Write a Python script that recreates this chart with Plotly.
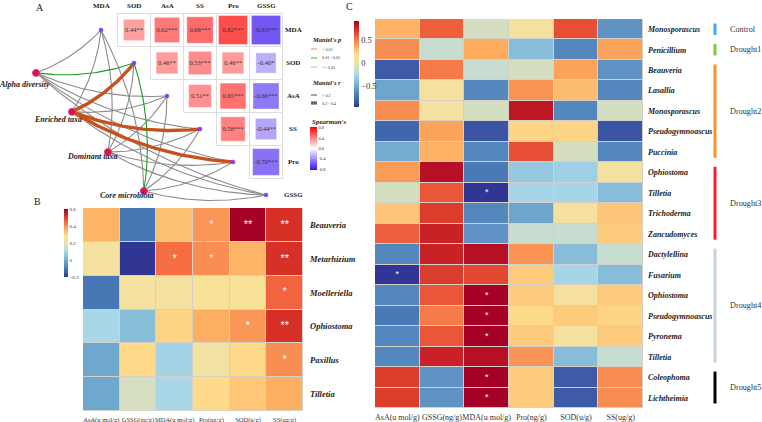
import numpy as np
import plotly.graph_objects as go

W, H = 762, 422

# ======================= DATA =======================
# ---- Panel A: Spearman correlations among physiological indices ----
env_vars = ["MDA", "SOD", "AsA", "SS", "Pro", "GSSG"]
corr_row = ["MDA", "MDA", "MDA", "MDA", "MDA", "SOD", "SOD", "SOD", "SOD",
            "AsA", "AsA", "AsA", "SS", "SS", "Pro"]
corr_col = ["SOD", "AsA", "SS", "Pro", "GSSG", "AsA", "SS", "Pro", "GSSG",
            "SS", "Pro", "GSSG", "Pro", "GSSG", "GSSG"]
corr_r = [0.44, 0.62, 0.68, 0.82, -0.83, 0.46, 0.53, 0.46, -0.40,
          0.51, 0.65, -0.66, 0.58, -0.44, -0.70]
corr_sig = ["**", "***", "***", "***", "***", "**", "***", "**", "*",
            "**", "***", "***", "***", "**", "***"]

# ---- Panel A: Mantel tests (fungal community sets vs indices) ----
spec_names = ["Alpha diversity", "Enriched taxa", "Dominant taxa", "Core microbiota"]
mantel_p = [
    [">=0.05", "0.01-0.05", ">=0.05", ">=0.05", ">=0.05", ">=0.05"],
    [">=0.05", "<0.01", ">=0.05", "<0.01", "<0.01", ">=0.05"],
    [">=0.05", ">=0.05", ">=0.05", ">=0.05", ">=0.05", ">=0.05"],
    [">=0.05", "0.01-0.05", ">=0.05", ">=0.05", ">=0.05", ">=0.05"],
]
mantel_r = [
    ["<0.2", "<0.2", "<0.2", "<0.2", "<0.2", "<0.2"],
    ["<0.2", "0.2-0.4", "<0.2", "0.2-0.4", "0.2-0.4", "<0.2"],
    ["<0.2", "<0.2", "<0.2", "<0.2", "<0.2", "<0.2"],
    ["<0.2", "<0.2", "<0.2", "<0.2", "<0.2", "<0.2"],
]

# ---- Panel B ----
b_cols = ["AsA(u mol/g)", "GSSG(ng/g)", "MDA(u mol/g)", "Pro(ng/g)", "SOD(u/g)", "SS(ug/g)"]
b_genus = ["Beauveria", "Metarhizium", "Moelleriella", "Ophiostoma", "Paxillus", "Tilletia"]
b_values = [
    [0.35, -0.10, 0.33, 0.39, 0.60, 0.52],
    [0.24, -0.20, 0.44, 0.40, 0.35, 0.52],
    [-0.10, 0.24, 0.24, 0.26, 0.26, 0.45],
    [0.10, 0.04, 0.30, 0.36, 0.39, 0.52],
    [-0.01, 0.29, 0.09, 0.23, 0.29, 0.40],
    [-0.01, 0.17, 0.10, 0.29, 0.32, 0.36],
]
b_stars = [
    ["", "", "", "*", "**", "**"],
    ["", "", "*", "*", "", "**"],
    ["", "", "", "", "", "*"],
    ["", "", "", "", "*", "**"],
    ["", "", "", "", "", "*"],
    ["", "", "", "", "", ""],
]

# ---- Panel C ----
c_cols = ["AsA(u mol/g)", "GSSG(ng/g)", "MDA(u mol/g)", "Pro(ng/g)", "SOD(u/g)", "SS(ug/g)"]
c_genus = ["Monosporascus", "Penicillium", "Beauveria", "Lasallia", "Monosporascus",
           "Pseudogymnoascus", "Puccinia", "Ophiostoma", "Tilletia", "Trichoderma",
           "Zancudomyces", "Dactylellina", "Fusarium", "Ophiostoma", "Pseudogymnoascus",
           "Pyronema", "Tilletia", "Coleophoma", "Lichtheimia"]
c_values = [
    [0.33, 0.57, -0.10, 0.07, 0.62, -0.60],
    [0.44, -0.15, 0.35, -0.40, -0.65, 0.38],
    [-0.82, 0.49, -0.15, -0.10, 0.38, -0.60],
    [-0.52, 0.07, -0.65, 0.42, 0.29, -0.65],
    [0.44, 0.07, -0.10, 0.81, -0.65, -0.10],
    [-0.78, 0.38, -0.84, 0.20, 0.20, -0.84],
    [-0.49, 0.33, -0.65, 0.62, -0.10, -0.65],
    [0.40, 0.84, -0.71, -0.34, -0.30, 0.07],
    [-0.10, 0.60, -0.95, -0.27, -0.27, -0.40],
    [0.26, 0.68, -0.65, -0.52, 0.07, 0.26],
    [0.57, 0.77, -0.60, -0.15, -0.15, 0.24],
    [-0.65, 0.77, 0.84, 0.42, -0.40, -0.15],
    [-0.95, 0.68, 0.64, 0.24, -0.27, -0.40],
    [-0.65, 0.60, 0.90, 0.24, 0.07, 0.24],
    [-0.71, 0.49, 0.90, 0.18, 0.24, 0.20],
    [-0.65, 0.60, 0.90, 0.24, 0.07, 0.24],
    [-0.65, 0.77, 0.84, 0.42, -0.40, -0.15],
    [0.68, -0.60, 0.90, 0.24, -0.82, 0.44],
    [0.68, -0.60, 0.90, 0.24, -0.82, 0.44],
]
c_star_row = [8, 12, 13, 14, 15, 17, 18]
c_star_col = [2, 0, 2, 2, 2, 2, 2]
c_star_txt = ["*", "*", "*", "*", "*", "*", "*"]
c_groups = ["Control", "Drought1", "Drought2", "Drought3", "Drought4", "Drought5"]
c_group_first = [0, 1, 2, 7, 11, 17]
c_group_last = [0, 1, 6, 10, 16, 18]

# ======================= STYLE / LAYOUT =======================
SERIF = "Liberation Serif"
TXT = "#222222"
HM_SCALE = [[0, "#313695"], [0.12, "#4575b4"], [0.25, "#74add1"], [0.38, "#abd9e9"],
            [0.5, "#e9e2ae"], [0.6, "#fee090"], [0.7, "#fdae61"], [0.8, "#f46d43"],
            [0.9, "#d73027"], [1, "#a50026"]]
SP_SCALE = [[0, "#3a10f0"], [0.5, "#ffffff"], [1, "#ff0000"]]
P_COL = {"<0.01": "#c8501e", "0.01-0.05": "#1f9a1f", ">=0.05": "#8c8c8c"}
R_WID = {"<0.2": 1.1, "0.2-0.4": 3.4}
GROUP_COL = ["#3fa9f5", "#7ac943", "#f7931e", "#ff1d25", "#c7d3dc", "#000000"]


def px(x):
    return x / W


def py(y):
    return 1 - y / H


fig = go.Figure()

# ---------------- Panel C heatmap ----------------
nC = len(c_genus)
fig.add_trace(go.Heatmap(
    z=c_values, x=list(range(len(c_cols))), y=list(range(nC)),
    colorscale=HM_SCALE, zmin=-0.95, zmax=0.9, xgap=1, ygap=1,
    xaxis="x", yaxis="y", showscale=True,
    colorbar=dict(x=px(354), xanchor="left", xpad=0, y=py(64), yanchor="middle",
                  len=86, lenmode="pixels", thickness=5, thicknessmode="pixels",
                  outlinewidth=0, ypad=0, ticks="",
                  tickvals=[-0.5, 0, 0.5], ticktext=["\u22120.5", "0", "0.5"],
                  tickfont=dict(family=SERIF, size=8.5, color="#333"))))
fig.add_trace(go.Scatter(
    x=c_star_col, y=c_star_row, text=c_star_txt, mode="text",
    textfont=dict(color="white", size=9, family="Arial"), xaxis="x", yaxis="y",
    hoverinfo="skip"))

# ---------------- Panel B heatmap ----------------
nB = len(b_genus)
fig.add_trace(go.Heatmap(
    z=b_values, x=list(range(len(b_cols))), y=list(range(nB)),
    colorscale=HM_SCALE, zmin=-0.2, zmax=0.6, xgap=1, ygap=1,
    xaxis="x2", yaxis="y2", showscale=True,
    colorbar=dict(x=px(64), xanchor="left", xpad=0, y=py(243), yanchor="middle",
                  len=68, lenmode="pixels", thickness=4, thicknessmode="pixels",
                  outlinewidth=0, ypad=0, ticks="",
                  tickvals=[-0.2, 0, 0.2, 0.4, 0.6],
                  ticktext=["\u22120.2", "0", "0.2", "0.4", "0.6"],
                  tickfont=dict(family=SERIF, size=5, color="#333"))))
bx, by, bt = [], [], []
for i, row in enumerate(b_stars):
    for j, s in enumerate(row):
        if s:
            bx.append(j)
            by.append(i)
            bt.append(s)
fig.add_trace(go.Scatter(
    x=bx, y=by, text=bt, mode="text",
    textfont=dict(color="white", size=11, family="Arial"), xaxis="x2", yaxis="y2",
    hoverinfo="skip"))

# ---------------- Panel A ----------------
idx = {v: k for k, v in enumerate(env_vars)}
spec_x = [-1.97, -0.88, 0.21, 1.30]   # node positions in cell units
spec_y = [1.30, 2.48, 3.70, 4.88]
CURV = 0.12

order = []
for si in range(len(spec_names)):
    for ei in range(len(env_vars)):
        order.append((0 if mantel_p[si][ei] == ">=0.05" else 1, si, ei))
order.sort()
t = np.linspace(0, 1, 40)
for _, si, ei in order:
    p0 = np.array([spec_x[si], spec_y[si]])
    p2 = np.array([ei, ei], dtype=float)
    d = p2 - p0
    ctrl = (p0 + p2) / 2 + CURV * np.array([-d[1], d[0]])
    pts = ((1 - t) ** 2)[:, None] * p0 + (2 * (1 - t) * t)[:, None] * ctrl + (t ** 2)[:, None] * p2
    fig.add_trace(go.Scatter(
        x=pts[:, 0], y=pts[:, 1], mode="lines", xaxis="x3", yaxis="y3",
        line=dict(color=P_COL[mantel_p[si][ei]], width=R_WID[mantel_r[si][ei]]),
        hoverinfo="skip"))

gx, gy = [], []
for rname, cname in zip(corr_row, corr_col):
    i, j = idx[rname], idx[cname]
    gx += [j - 0.5, j + 0.5, j + 0.5, j - 0.5, j - 0.5, None]
    gy += [i - 0.5, i - 0.5, i + 0.5, i + 0.5, i - 0.5, None]
fig.add_trace(go.Scatter(x=gx, y=gy, mode="lines", xaxis="x3", yaxis="y3",
                         line=dict(color="#dddddd", width=1), hoverinfo="skip"))

cx = [idx[c] for c in corr_col]
cy = [idx[r] for r in corr_row]
fig.add_trace(go.Scatter(
    x=cx, y=cy, mode="markers+text", xaxis="x3", yaxis="y3",
    text=[f"{r:.2f}{s}" for r, s in zip(corr_r, corr_sig)],
    textposition="middle center",
    textfont=dict(family=SERIF, size=6.5, color="#333"),
    marker=dict(symbol="square", size=[32 * np.sqrt(abs(r)) for r in corr_r],
                color=corr_r, colorscale=SP_SCALE, cmin=-0.83, cmax=0.83,
                line=dict(width=0.6, color="rgba(255,255,255,0.6)"),
                showscale=True,
                colorbar=dict(x=px(310), xanchor="left", xpad=0, y=py(148.5), yanchor="middle",
                              len=43, lenmode="pixels", thickness=7, thicknessmode="pixels",
                              outlinewidth=0, ypad=0, ticks="",
                              tickvals=[-0.8, -0.4, 0, 0.4, 0.8],
                              ticktext=["-0.8", "-0.4", "0.0", "0.4", "0.8"],
                              tickfont=dict(family=SERIF, size=4.5, color="#333"))),
    hoverinfo="skip"))

fig.add_trace(go.Scatter(
    x=list(range(len(env_vars))), y=list(range(len(env_vars))), mode="markers",
    xaxis="x3", yaxis="y3", marker=dict(size=4, color="#9b30ff",
                                        line=dict(width=0.5, color="#5050ff")),
    hoverinfo="skip"))
fig.add_trace(go.Scatter(
    x=spec_x, y=spec_y, mode="markers", xaxis="x3", yaxis="y3",
    marker=dict(size=7, color="#e8102a", line=dict(width=1, color="#c040c0")),
    hoverinfo="skip"))

annotations = []
lab_dx = [0.48, 0.35, 0.36, 0.36]
lab_dy = [0.36, 0.24, 0.12, 0.12]
for si, name in enumerate(spec_names):
    annotations.append(dict(
        x=spec_x[si] + lab_dx[si], y=spec_y[si] + lab_dy[si], xref="x3", yref="y3",
        text=f"<b><i>{name}</i></b>", showarrow=False, xanchor="right", yanchor="middle",
        font=dict(family=SERIF, size=8, color=TXT)))
for k, v in enumerate(env_vars):
    annotations.append(dict(x=k, y=-0.73, xref="x3", yref="y3", text=f"<b>{v}</b>",
                            showarrow=False, xanchor="center", yanchor="middle",
                            font=dict(family=SERIF, size=7, color=TXT)))
    annotations.append(dict(x=5.82, y=k, xref="x3", yref="y3", text=f"<b>{v}</b>",
                            showarrow=False, xanchor="center", yanchor="middle",
                            font=dict(family=SERIF, size=7, color=TXT)))

for lt, lx, ly in [("A", 40, 8), ("B", 37, 202), ("C", 349, 6)]:
    annotations.append(dict(x=px(lx), y=py(ly), xref="paper", yref="paper", text=lt,
                            showarrow=False, xanchor="center", yanchor="middle",
                            font=dict(family=SERIF, size=10, color=TXT)))

shapes = []
LX0, LX1, LT = 311, 317, 320


def leg_title(txt, y, size):
    annotations.append(dict(x=px(310), y=py(y), xref="paper", yref="paper",
                            text=f"<b><i>{txt}</i></b>", showarrow=False, xanchor="left",
                            yanchor="middle",
                            font=dict(family=SERIF, size=size, color=TXT)))


def leg_item(txt, y, color, width):
    shapes.append(dict(type="line", xref="paper", yref="paper", x0=px(LX0), x1=px(LX1),
                       y0=py(y), y1=py(y), line=dict(color=color, width=width)))
    annotations.append(dict(x=px(LT), y=py(y), xref="paper", yref="paper", text=txt,
                            showarrow=False, xanchor="left", yanchor="middle",
                            font=dict(family=SERIF, size=4.2, color="#333")))


leg_title("Mantel's p", 39, 6.5)
leg_item("&lt; 0.01", 49, "#f08a6a", 1)
leg_item("0.01 - 0.05", 58, "#4cb04c", 1)
leg_item("&gt;= 0.05", 67, "#bbbbbb", 1)
leg_title("Mantel's r", 83, 6.5)
leg_item("&lt; 0.2", 95, "#888888", 1.5)
leg_item("0.2 - 0.4", 103, "#666666", 3.2)
leg_title("Spearman's", 122, 7)

for g, f0, f1, col in zip(c_groups, c_group_first, c_group_last, GROUP_COL):
    shapes.append(dict(type="line", xref="paper", yref="y", x0=px(715), x1=px(715),
                       y0=f0 - 0.5 + 0.22, y1=f1 + 0.5 - 0.22,
                       line=dict(color=col, width=3)))
    annotations.append(dict(x=px(728), y=(f0 + f1) / 2, xref="paper", yref="y", text=g,
                            showarrow=False, xanchor="left", yanchor="middle",
                            font=dict(family=SERIF, size=8.2, color="#333")))

for xr, yr in [("x", "y"), ("x2", "y2")]:
    shapes.append(dict(type="rect", xref=f"{xr} domain", yref=f"{yr} domain",
                       x0=0, x1=1, y0=0, y1=1, fillcolor="#d4d0c8", line=dict(width=0),
                       layer="below"))

CELL = 33.0
x3_range = [-101 / CELL, (W - 101) / CELL]
y3_range = [(H - 30) / CELL, -30 / CELL]

fig.update_layout(
    template="none",
    width=W, height=H, margin=dict(l=0, r=0, t=0, b=0, autoexpand=False),
    paper_bgcolor="white", plot_bgcolor="rgba(0,0,0,0)", showlegend=False,
    annotations=annotations, shapes=shapes,
    xaxis=dict(domain=[px(375), px(643)], anchor="y", range=[-0.5, 5.5], automargin=False,
               tickvals=list(range(6)), ticktext=c_cols, ticks="", showgrid=False, tickangle=0,
               zeroline=False, showline=False,
               tickfont=dict(family=SERIF, size=8, color="#333"), ticklabelstandoff=3),
    yaxis=dict(domain=[py(408), py(19)], anchor="x", range=[nC - 0.5, -0.5], side="right",
               automargin=False,
               tickvals=list(range(nC)), ticktext=[f"<b><i>{g}</i></b>" for g in c_genus],
               ticks="", showgrid=False, zeroline=False, showline=False,
               tickfont=dict(family=SERIF, size=8, color=TXT), ticklabelstandoff=4),
    xaxis2=dict(domain=[px(83), px(303)], anchor="y2", range=[-0.5, 5.5], automargin=False,
                tickvals=list(range(6)), ticktext=b_cols, ticks="", showgrid=False, tickangle=0,
                zeroline=False, showline=False,
                tickfont=dict(family=SERIF, size=6.5, color="#333"), ticklabelstandoff=3),
    yaxis2=dict(domain=[py(411), py(208)], anchor="x2", range=[nB - 0.5, -0.5], side="right",
                automargin=False,
                tickvals=list(range(nB)), ticktext=[f"<b><i>{g}</i></b>" for g in b_genus],
                ticks="", showgrid=False, zeroline=False, showline=False,
                tickfont=dict(family=SERIF, size=8.5, color=TXT), ticklabelstandoff=6),
    xaxis3=dict(domain=[0, 1], anchor="y3", range=x3_range, visible=False, fixedrange=True,
                automargin=False),
    yaxis3=dict(domain=[0, 1], anchor="x3", range=y3_range, visible=False, fixedrange=True,
                automargin=False),
)

fig.write_html("out.html")
